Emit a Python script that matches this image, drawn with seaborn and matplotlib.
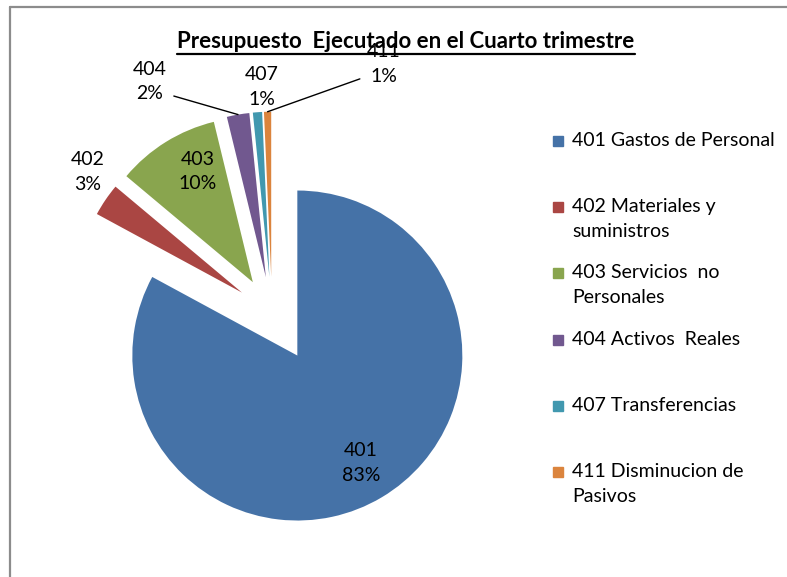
import numpy as np
import matplotlib.pyplot as plt
import seaborn as sns
from matplotlib.lines import Line2D
from matplotlib.patches import Rectangle

codes = ["401", "402", "403", "404", "407", "411"]
legend_labels = ["401 Gastos de Personal",
                 "402 Materiales y\nsuministros",
                 "403 Servicios  no\nPersonales",
                 "404 Activos  Reales",
                 "407 Transferencias",
                 "411 Disminucion de\nPasivos"]
shares = [82.9, 3.2, 10.1, 2.2, 0.9, 0.7]
colors = ["#4572A7", "#AA4643", "#89A54E", "#71588F", "#4198AF", "#DB843D"]
title = "Presupuesto  Ejecutado en el Cuarto trimestre"

sns.set_theme(style="white")
plt.rcParams["font.family"] = ["Lato", "DejaVu Sans"]
FS = 14
LS = 1.55

W, H = 787, 577
fig = plt.figure(figsize=(W / 100, H / 100), dpi=100)
ax = fig.add_axes([0, 0, 1, 1])

# pie geometry in pixels
px = 165.0
cx, cy = 272, 313
explode = [0.30, 0.22, 0.22, 0.22, 0.22, 0.22]

wedges, _ = ax.pie(shares, colors=sns.color_palette(colors), startangle=90,
                   counterclock=False, explode=explode,
                   wedgeprops=dict(linewidth=0))
ax.set_xlim(-cx / px, (W - cx) / px)
ax.set_ylim(-(H - cy) / px, cy / px)
ax.set_aspect("equal")
ax.axis("off")

# data labels
label_r = [0.756, 1.19, 0.75, 1.38, 1.15, 1.46]
label_ang = [None, 142, 116.5, 120.7, 92.2, 62.1]
leader_rel = [None, None, None, (1, 0.2), None, (0, 0.2)]
total = sum(shares)
for i, w in enumerate(wedges):
    mid = (w.theta1 + w.theta2) / 2
    a = np.deg2rad(label_ang[i] if label_ang[i] is not None else mid)
    x = w.center[0] + label_r[i] * np.cos(a)
    y = w.center[1] + label_r[i] * np.sin(a)
    txt = f"{codes[i]}\n{shares[i] / total * 100:.0f}%"
    if leader_rel[i] is None:
        ax.text(x, y, txt, ha="center", va="center", fontsize=FS,
                linespacing=LS, color="black")
    else:
        m = np.deg2rad(mid)
        ox = w.center[0] + w.r * np.cos(m)
        oy = w.center[1] + w.r * np.sin(m)
        ax.annotate(txt, xy=(ox, oy), xytext=(x, y), ha="center", va="center",
                    fontsize=FS, linespacing=LS, color="black",
                    arrowprops=dict(arrowstyle="-", color="black", lw=1,
                                    shrinkA=3, shrinkB=0, relpos=leader_rel[i]))

# title with underline
t = fig.text(406 / W, 1 - 42 / H, title, ha="center", va="center",
             fontsize=16, fontweight="bold", color="black")
fig.canvas.draw()
bb = t.get_window_extent()
(ux0, uy), (ux1, _) = fig.transFigure.inverted().transform(
    [[bb.x0, bb.y0 - 1], [bb.x1, bb.y0 - 1]])
fig.add_artist(Line2D([ux0, ux1], [uy, uy], color="black", lw=1.6,
                      transform=fig.transFigure))

# legend
row0, step = 141, 66.2
for i, lab in enumerate(legend_labels):
    yc = row0 + i * step
    fig.add_artist(Rectangle((553 / W, 1 - (yc + 5) / H), 10 / W, 10 / H,
                             color=colors[i], transform=fig.transFigure))
    fig.text(572 / W, 1 - (yc - 9) / H, lab, ha="left", va="top",
             fontsize=FS, linespacing=LS, color="black")

# chart border
fig.add_artist(Line2D([10 / W, 1], [1 - 7 / H, 1 - 7 / H], color="#8c8c8c",
                      lw=1.6, transform=fig.transFigure))
fig.add_artist(Line2D([10 / W, 10 / W], [0, 1 - 7 / H], color="#8c8c8c",
                      lw=1.6, transform=fig.transFigure))

fig.savefig("out.png", dpi=100)
